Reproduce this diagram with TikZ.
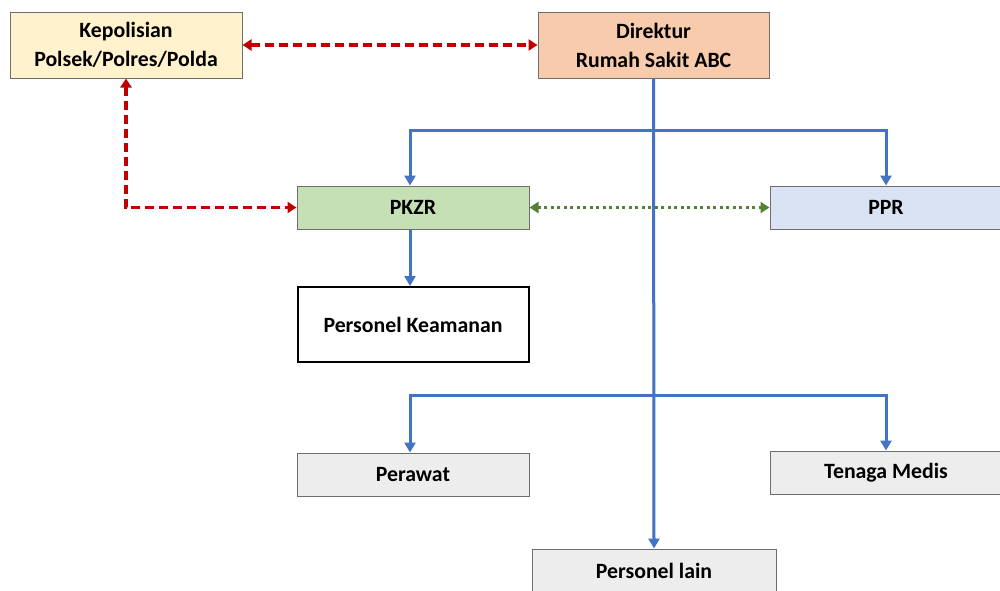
\documentclass[tikz,border=0pt]{standalone}
\usepackage{fontspec}
\setmainfont{Carlito}
\usetikzlibrary{arrows.meta}
\definecolor{ylw}{HTML}{FFF2CC}
\definecolor{org}{HTML}{F8CBAD}
\definecolor{grn}{HTML}{C5E0B4}
\definecolor{lblue}{HTML}{DAE3F3}
\definecolor{lgray}{HTML}{EDEDED}
\definecolor{bord}{HTML}{6E6E6E}
\definecolor{lineblue}{HTML}{4472C4}
\definecolor{linered}{HTML}{C00000}
\definecolor{linegreen}{HTML}{548235}
\begin{document}
\begin{tikzpicture}[x=1pt,y=-1pt,
  box/.style={draw=bord,line width=1pt,rectangle,inner sep=0pt,align=center,
    font=\fontsize{21.8}{29}\selectfont\bfseries,text=black},
  bl/.style={draw=lineblue,line width=3pt,-{Triangle[length=10pt,width=11pt]}},
  rd/.style={draw=linered,line width=3.4pt,dash pattern=on 9pt off 5pt,
    {Triangle[length=9pt,width=11pt]}-{Triangle[length=9pt,width=11pt]}},
  gd/.style={draw=linegreen,line width=3pt,dash pattern=on 3pt off 3.5pt,
    {Triangle[length=9pt,width=11pt]}-{Triangle[length=9pt,width=11pt]}}]
\useasboundingbox (0,0) rectangle (1000,590);
\clip (0,0) rectangle (1000,590);
\node[box,fill=ylw,minimum width=232pt,minimum height=66pt] (kep) at (126,45) {Kepolisian\\Polsek/Polres/Polda};
\node[box,fill=org,minimum width=231pt,minimum height=66pt] (dir) at (653.5,45) {Direktur\\Rumah Sakit ABC};
\node[box,fill=grn,minimum width=232pt,minimum height=43pt] (pkzr) at (413,207.5) {PKZR};
\node[box,fill=lblue,minimum width=232pt,minimum height=43pt] (ppr) at (886,207.5) {PPR};
\node[box,draw=black,line width=2pt,fill=white,minimum width=231pt,minimum height=75pt] (pk) at (413,324.5) {Personel Keamanan};
\node[box,fill=lgray,minimum width=232pt,minimum height=43pt] (per) at (413,474.5) {Perawat};
\node[box,fill=lgray,minimum width=232pt,minimum height=43pt] (tm) at (886,472.5) {Tenaga Medis};
\node[box,fill=lgray,minimum width=244pt,minimum height=43pt] (pl) at (654,570.5) {Personel lain};
\coordinate (b1) at (654,130);
\coordinate (b2) at (654,395);
% blue tree
\draw[bl] (dir.south) -- (pl.north);
\draw[bl] (b1) -| ([xshift=-3pt]pkzr.north);
\draw[bl] (b1) -| (ppr.north);
\draw[bl] ([xshift=-3pt]pkzr.south) -- ([xshift=-3pt]pk.north);
\draw[bl] (b2) -| ([xshift=-3pt]per.north);
\draw[bl] (b2) -| (tm.north);
% red dashed
\draw[rd] (kep.east) -- (dir.west);
\coordinate (corner) at (126,207.5);
\draw[rd] (kep.south) -- (corner) -- (pkzr.west);
% green dotted
\draw[gd] (pkzr.east) -- (ppr.west);
\end{tikzpicture}
\end{document}
